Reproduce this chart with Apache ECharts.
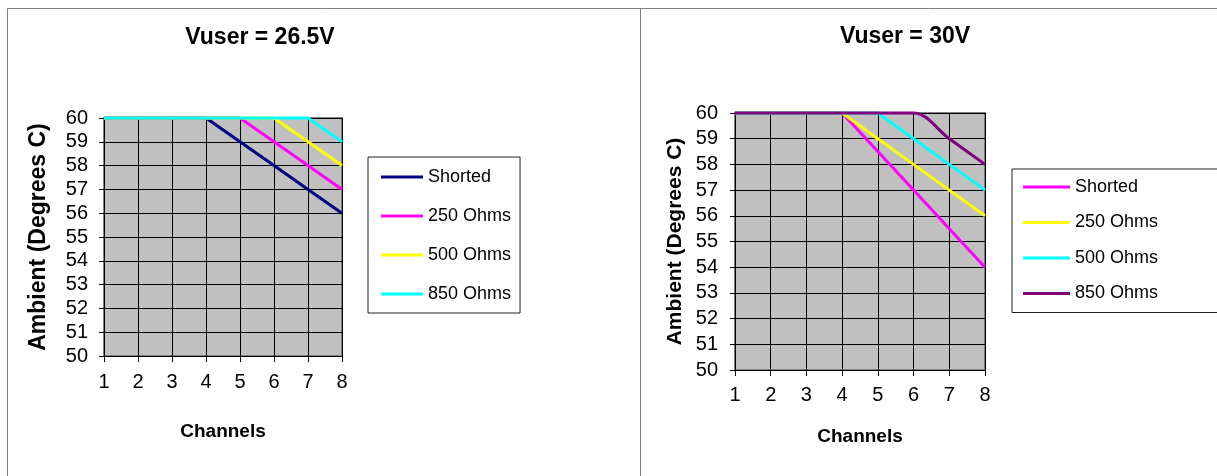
<!DOCTYPE html>
<html>
<head>
<meta charset="utf-8">
<script src="https://cdn.jsdelivr.net/npm/echarts@6/dist/echarts.min.js"></script>
<style>
  html, body { margin: 0; padding: 0; background: #fff; }
  #wrap { position: relative; width: 1217px; height: 476px; overflow: hidden; }
  #chartA { position: absolute; left: 0; top: 0; width: 640px; height: 476px; }
  #chartB { position: absolute; left: 640px; top: 0; width: 577px; height: 476px; }
</style>
</head>
<body>
<div id="wrap">
  <div id="chartA"></div>
  <div id="chartB"></div>
</div>
<script>
// Channel count on the x axis
const channels = [1, 2, 3, 4, 5, 6, 7, 8];
const seriesNames = ['Shorted', '250 Ohms', '500 Ohms', '850 Ohms'];

// Maximum ambient temperature (Degrees C), Vuser = 26.5V
const shorted265 = [60, 60, 60, 60, 59, 58, 57, 56];
const ohms250v265 = [60, 60, 60, 60, 60, 59, 58, 57];
const ohms500v265 = [60, 60, 60, 60, 60, 60, 59, 58];
const ohms850v265 = [60, 60, 60, 60, 60, 60, 60, 59];

// Maximum ambient temperature (Degrees C), Vuser = 30V
const shorted30 = [60, 60, 60, 60, 58.5, 57, 55.5, 54];
const ohms250v30 = [60, 60, 60, 60, 59, 58, 57, 56];
const ohms500v30 = [60, 60, 60, 60, 60, 59, 58, 57];
const ohms850v30 = [60, 60, 60, 60, 60, 60, 59, 58];

// Axis ranges and tick steps
const xMin = 1, xMax = 8, xStep = 1;
const yMin = 50, yMax = 60, yStep = 1;

const FONT = '"Liberation Sans", Arial, Helvetica, sans-serif';

function pairs(values) {
  return values.map((v, i) => [channels[i], v]);
}

function buildOption(cfg) {
  const axisLabel = { color: '#000', fontSize: 20, fontFamily: FONT };
  return {
    animation: false,
    color: cfg.colors,
    textStyle: { fontFamily: FONT },
    graphic: [
      // panel frame
      ...cfg.frame.map(s => ({
        type: 'line', silent: true, z: 0,
        shape: s, style: { stroke: '#808080', lineWidth: 1 }
      })),
      {
        type: 'text', x: cfg.titlePos[0], y: cfg.titlePos[1], silent: true,
        style: {
          text: cfg.title, fill: '#000', align: 'center', verticalAlign: 'middle',
          font: 'bold 23px ' + FONT
        }
      }
    ],
    grid: {
      left: cfg.grid.left, top: cfg.grid.top, width: cfg.grid.width, height: cfg.grid.height,
      show: true, backgroundColor: '#C0C0C0', borderColor: '#808080', borderWidth: 2,
      containLabel: false
    },
    legend: {
      orient: 'vertical',
      left: cfg.legend.left, top: cfg.legend.top,
      padding: cfg.legend.padding,
      itemGap: cfg.legend.itemGap,
      itemWidth: cfg.legend.itemWidth, itemHeight: 3,
      icon: 'rect',
      borderColor: '#222', borderWidth: 1, backgroundColor: '#fff',
      selectedMode: false,
      textStyle: { color: '#000', fontSize: 18, lineHeight: 20, fontFamily: FONT },
      data: seriesNames
    },
    xAxis: {
      type: 'value', min: xMin, max: xMax, interval: xStep,
      name: 'Channels', nameLocation: 'middle', nameGap: cfg.xNameGap,
      nameTextStyle: { color: '#000', fontSize: 19, fontWeight: 'bold', fontFamily: FONT },
      axisLine: { show: true, lineStyle: { color: '#000', width: 1 } },
      axisTick: { show: true, length: 6, lineStyle: { color: '#000' } },
      axisLabel: Object.assign({ margin: cfg.xLabelMargin }, axisLabel),
      splitLine: { show: true, lineStyle: { color: '#000', width: 1 } }
    },
    yAxis: {
      type: 'value', min: yMin, max: yMax, interval: yStep,
      name: 'Ambient (Degrees C)', nameLocation: 'middle', nameGap: cfg.yNameGap,
      nameRotate: 90,
      nameTextStyle: { color: '#000', fontSize: cfg.yNameSize, fontWeight: 'bold', fontFamily: FONT },
      axisLine: { show: true, lineStyle: { color: '#000', width: 1 } },
      axisTick: { show: true, length: 5, lineStyle: { color: '#000' } },
      axisLabel: Object.assign({ margin: cfg.yLabelMargin }, axisLabel),
      splitLine: { show: true, lineStyle: { color: '#000', width: 1 } }
    },
    series: cfg.data.map((vals, i) => ({
      type: 'line',
      name: seriesNames[i],
      data: pairs(vals),
      symbol: 'none',
      clip: false,
      smooth: cfg.smooth[i],
      lineStyle: { width: 3 },
      z: 3 + i
    }))
  };
}

const chartA = echarts.init(document.getElementById('chartA'), null, { renderer: 'canvas' });
chartA.setOption(buildOption({
  title: 'Vuser = 26.5V',
  titlePos: [260, 38],
  colors: ['#000080', '#FF00FF', '#FFFF00', '#00FFFF'],
  frame: [
    { x1: 7.5, y1: 8.5, x2: 7.5, y2: 476 },
    { x1: 7.5, y1: 8.5, x2: 640, y2: 8.5 }
  ],
  grid: { left: 104, top: 118, width: 238, height: 238 },
  legend: { left: 368, top: 157, padding: [10, 9, 9, 13], itemGap: 19, itemWidth: 42 },
  xNameGap: 66, xLabelMargin: 16,
  yNameGap: 54, yNameSize: 23, yLabelMargin: 16,
  data: [shorted265, ohms250v265, ohms500v265, ohms850v265],
  smooth: [false, false, false, false]
}));

const chartB = echarts.init(document.getElementById('chartB'), null, { renderer: 'canvas' });
chartB.setOption(buildOption({
  title: 'Vuser = 30V',
  titlePos: [265, 37],
  colors: ['#FF00FF', '#FFFF00', '#00FFFF', '#800080'],
  frame: [
    { x1: 0, y1: 8.5, x2: 577, y2: 8.5 },
    { x1: 0.5, y1: 8.5, x2: 0.5, y2: 476 }
  ],
  grid: { left: 95, top: 113, width: 250, height: 257 },
  legend: { left: 372, top: 169, padding: [8, 80, 9, 11], itemGap: 15.5, itemWidth: 47 },
  xNameGap: 57, xLabelMargin: 15,
  yNameGap: 49, yNameSize: 21, yLabelMargin: 17,
  data: [shorted30, ohms250v30, ohms500v30, ohms850v30],
  smooth: [false, false, false, 0.35]
}));
</script>
</body>
</html>
